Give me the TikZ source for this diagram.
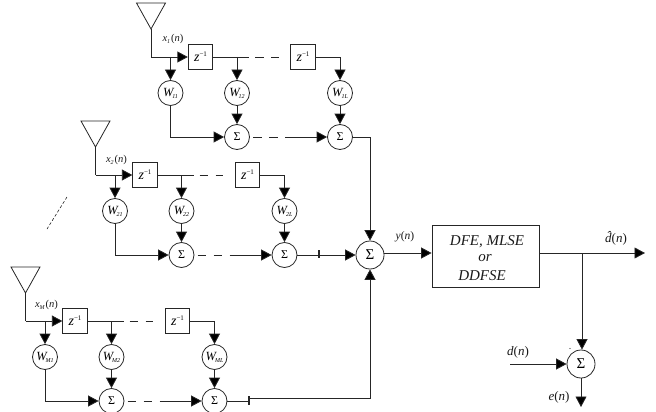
\documentclass[tikz,border=0pt]{standalone}
\usepackage{fontspec}
\setmainfont{Liberation Serif}
\usetikzlibrary{arrows.meta,calc}
\newcommand{\subs}[2][-2pt]{\raisebox{#1}{\fontsize{6}{6}\selectfont\itshape #2}}
\newcommand{\zinv}{{\fontsize{14}{14}\selectfont\itshape z}\raisebox{5pt}{\fontsize{7}{7}\selectfont −1}}
\newcommand{\wlab}[1]{{\fontsize{12.5}{13}\selectfont\itshape W}\kern-1pt\subs{#1}}
\newcommand{\xlab}[1]{{\fontsize{10.5}{11}\selectfont\itshape x}\subs{#1}\kern1pt{\fontsize{10.5}{11}\selectfont(\textit{n})}}
\newcommand{\dhat}{\rlap{\kern1.4pt\raisebox{1.8pt}{ˆ}}d}
\tikzset{
  wire/.style={line width=0.8pt,draw=black!85},
  arr/.style={wire,-{Triangle[length=10.5pt,width=11pt,fill=black]}},
  delaybox/.style={draw=black!85,line width=0.8pt,minimum width=24.5pt,minimum height=24.5pt,inner sep=0pt},
  weight/.style={circle,draw=black!85,line width=0.8pt,minimum size=25pt,inner sep=0pt},
  sumnode/.style={circle,draw=black!85,line width=0.8pt,minimum size=25pt,inner sep=0pt,font=\fontsize{12}{12}\selectfont},
  mainsum/.style={sumnode,minimum size=28pt,font=\fontsize{15}{15}\selectfont},
  lab/.style={inner sep=0pt,text=black!90},
  dashwire/.style={wire,dash pattern=on 8.5pt off 7.5pt},
  tri/.style={draw=black!85,line width=0.8pt,line join=miter},
  tickmark/.style={line width=1.4pt,draw=black!85}
}
% #1 id, #2 apex x, #3 apex y, #4 label offset x, #5 offset y, #6 x label, #7,#8,#9 weights
\newcommand{\branchrow}[9]{%
  \begin{scope}[shift={(#2,#3)}]
    \draw[tri] (-14.5,-26) -- (14.5,-26) -- (0,0) -- cycle;
    \coordinate (#1a) at (0,0);
    \coordinate (#1c) at (0,28);
    \coordinate (#1j1) at (19.5,28);
    \coordinate (#1j2) at (86,28);
    \node[delaybox] (#1z1) at (49.5,28) {\zinv};
    \node[delaybox] (#1z2) at (152,28) {\zinv};
    \node[weight] (#1w1) at (19.5,64) {\wlab{#7}};
    \node[weight] (#1w2) at (86,64) {\wlab{#8}};
    \node[weight] (#1w3) at (189,64) {\wlab{#9}};
    \node[sumnode] (#1s2) at (86,108) {Σ};
    \node[sumnode] (#1s3) at (189,108) {Σ};
    \node[lab] (#1x) at (#4,#5) {\xlab{#6}};
    \coordinate (#1d1) at (98,28);
    \coordinate (#1d2) at (127.5,28);
    \coordinate (#1e1) at (102,108);
    \coordinate (#1e2) at (136,108);
    \draw[wire] (#1a) -- (#1c);
    \draw[arr] (#1c) -- (#1z1.west);
    \draw[arr] (#1j1) -- (#1w1.north);
    \draw[wire] (#1z1.east) -- (#1d1);
    \draw[arr] (#1j2) -- (#1w2.north);
    \draw[dashwire] (#1d1) ++(6,0) -- (#1d2);
    \draw[arr] (#1z2.east) -| (#1w3.north);
    \draw[arr] (#1w1.south) |- (#1s2.west);
    \draw[arr] (#1w2.south) -- (#1s2.north);
    \draw[arr] (#1w3.south) -- (#1s3.north);
    \draw[dashwire] (#1e1) -- (#1e2);
    \draw[arr] (#1e2) -- (#1s3.west);
  \end{scope}%
}
\begin{document}
\begin{tikzpicture}[x=1pt,y=-1pt]
\useasboundingbox (0,0) rectangle (656,412);
\branchrow{a}{151}{29}{22}{10}{1}{11}{12}{1L}
\branchrow{b}{95.5}{147}{21}{13}{2}{21}{22}{2L}
\branchrow{c}{25.5}{293}{21}{12}{M}{M1}{M2}{ML}

\node[mainsum] (main) at (370,255) {Σ};
\node[draw=black!85,line width=0.8pt,minimum width=107pt,minimum height=62pt,inner sep=0pt] (eq) at (485.5,256) {};
\node[lab] (t1) at (487,242) {\fontsize{15}{15}\selectfont\itshape DFE, MLSE};
\node[lab] (t2) at (485,258) {\fontsize{15}{15}\selectfont\itshape or};
\node[lab] (t3) at (482,276) {\fontsize{15}{15}\selectfont\itshape DDFSE};
\node[mainsum] (err) at (581,364) {Σ};

\coordinate (j) at (582,253);
\coordinate (out) at (645,253);
\coordinate (din) at (510,364);
\coordinate (eout) at (581,407);
\coordinate (t2c) at (319,254);
\coordinate (t3c) at (249,401);
\coordinate (t3d) at (249,398);

\draw[arr] (as3.east) -| (main.north);
\draw[arr] (bs3.east) -- (main.west);
\draw[tickmark] (t2c) ++(0,-4) -- ++(0,8);
\draw[wire] (cs3.east) -- (cs3.east -| t3c);
\draw[arr] (t3d) -| (main.south);
\draw[tickmark] (t3c) ++(0,-5) -- ++(0,9);
\draw[arr] (main.east) ++(0,-2) -- (eq.west |- j);
\draw[arr] (eq.east |- j) -- (out);
\draw[arr] (j) -- (err.north -| j);
\draw[arr] (din) -- (err.west);
\draw[arr] (err.south) -- (eout);
\fill[black!80] (570,348.5) circle (0.6pt);

\node[lab] (ly) at (405,237) {\fontsize{11.5}{12}\selectfont\textit{y}(\textit{n})};
\node[lab] (ld) at (616,238) {\fontsize{13}{13}\selectfont\textit{\dhat}(\textit{n})};
\node[lab] (ldn) at (518,352) {\fontsize{13}{13}\selectfont\textit{d}(\textit{n})};
\node[lab] (len) at (559,397) {\fontsize{13}{13}\selectfont\textit{e}(\textit{n})};

\coordinate (q1) at (67,197);
\coordinate (q2) at (47,229);
\draw[line width=0.5pt,dash pattern=on 3pt off 2pt] (q1) -- (q2);
\end{tikzpicture}
\end{document}
